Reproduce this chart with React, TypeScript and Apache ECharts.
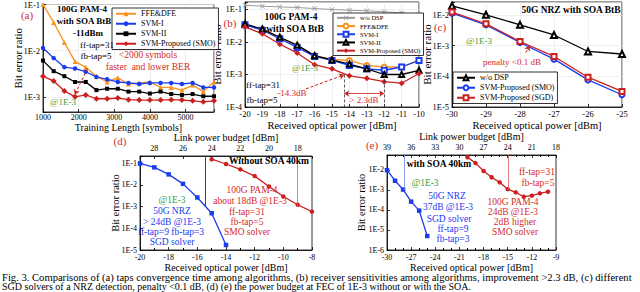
import React, { useEffect, useRef } from 'react';
import * as echarts from 'echarts';

// ---------- (a) taps convergence ----------
const aLength = [1000, 1300, 1600, 1900, 2200, 2500, 2800, 3100, 3400, 3700, 4000, 4300, 4600, 4900, 5200, 5500, 5800];
const aFfeDfe = [0.1, 0.041, 0.015, 0.0058, 0.0044, 0.0028, 0.0021, 0.0026, 0.0019, 0.002, 0.0021, 0.0016, 0.0016, 0.0014, 0.0018, 0.0013, 0.0021];
const aSvm1 = [0.0114, 0.0069, 0.0044, 0.0041, 0.0035, 0.0027, 0.0024, 0.0021, 0.002, 0.0019, 0.002, 0.002, 0.002, 0.0019, 0.002, 0.0016, 0.0016];
const aSvm2 = [0.0061, 0.0036, 0.0028, 0.0021, 0.0021, 0.0014, 0.0015, 0.0015, 0.0013, 0.0013, 0.00118, 0.0013, 0.00115, 0.0011, 0.00115, 0.00103, 0.00103];
const aSmo = [0.0028, 0.0022, 0.00134, 0.001, 0.0011, 0.00091, 0.00091, 0.00094, 0.00087, 0.00085, 0.00085, 0.00085, 0.00087, 0.00085, 0.00082, 0.00078, 0.00082];

// ---------- (b) receiver sensitivity, 100G PAM-4 ----------
const bPower = [-20, -19, -18, -17, -16, -15, -14, -13, -12, -11, -10];
const bNoDsp = [0.135, 0.126, 0.12, 0.115, 0.107, 0.1, 0.095, 0.091, 0.085, 0.079, 0.068];
const bFfeDfe = [0.034, 0.024, 0.0135, 0.0076, 0.0038, 0.0029, 0.0027, 0.0019, 0.0017, 0.0017, 0.0027];
const bSvm1 = [0.034, 0.023, 0.0126, 0.0068, 0.0036, 0.0027, 0.0019, 0.0015, 0.00135, 0.0017, 0.0027];
const bSvm2 = [0.036, 0.025, 0.014, 0.008, 0.0038, 0.0028, 0.0021, 0.0015, 0.001, 0.001, 0.00135];
const bSmo = [0.029, 0.018, 0.0085, 0.0046, 0.002, 0.0015, 0.00091, 0.00076, 0.0006, 0.00054, 0.00107];
const bMarks = [-14.3, -12];

// ---------- (c) 50G NRZ ----------
const cPower = [-30, -29, -28, -27, -26, -25];
const cNoDsp = [0.0196, 0.01, 0.0047, 0.0022, 0.00064, 0.00053];
const cSmo = [0.0113, 0.0047, 0.00125, 0.00036, 7.6e-5, 2.5e-5];
const cSgd = [0.0122, 0.0051, 0.00135, 0.00044, 9.3e-5, 3.2e-5];

// ---------- (d) without SOA 40 km ----------
const dPowerNrz = [-20, -19, -18, -17, -16, -15, -14];
const dNrz = [0.095, 0.063, 0.03, 0.011, 0.0026, 0.00049, 1.7e-5];
const dPowerPam = [-15, -14, -13, -12, -11, -10, -9, -8];
const dPam = [0.15, 0.09, 0.051, 0.025, 0.0083, 0.0029, 0.0012, 0.00058];
const dCross = [-15.45, -9.05];

// ---------- (e) with SOA 40 km ----------
const ePowerNrz = [-30, -29, -28, -27, -26, -25];
const eNrz = [0.0098, 0.0029, 0.00105, 0.00026, 9.3e-5, 5e-6];
const ePowerPam = [-20, -19, -18, -17, -16, -15, -14, -13, -12, -11, -10];
const ePam = [0.043, 0.022, 0.0089, 0.0043, 0.0024, 0.0011, 0.00076, 0.00046, 0.00052, 0.00068, 0.00082];
const eCross = [-27.9, -14.9];

const LAUNCH = 9; // link power budget = LAUNCH - received power

const RED = '#cc2020';
const RED_T = '#d42a2a';
const BLUE = '#1a3cf0';
const ORANGE = '#f7931e';
const GREEN = '#3a9d3a';
const GRAY = '#9b9b9b';
const SERIF = "'Liberation Serif', 'DejaVu Serif', serif";
const XMARK = 'path://M0,1L1,0L5,4L9,0L10,1L6,5L10,9L9,10L5,6L1,10L0,9L4,5Z';

const zip = (xs: number[], ys: number[]) => xs.map((x, i) => [x, ys[i]]);
const logFmt = (v: number) => {
  const e = Math.log10(v);
  const r = Math.round(e);
  return Math.abs(e - r) < 1e-6 ? '1E' + r : '';
};
const strip = (n: string) => n.split('|')[1];

const axisLineS = { show: true, onZero: false, lineStyle: { color: '#000', width: 0.8 } };
const tickS = { show: true, inside: true, length: 3, lineStyle: { color: '#000', width: 0.8 } };
const gridLineS = { show: true, lineStyle: { color: '#e4e4e4', width: 0.6 } };
const noLine = { show: false };
const lab = (size: number, margin: number, fmt: any) => ({ fontFamily: SERIF, fontSize: size, color: '#000', margin, formatter: fmt });
const nm = (size: number) => ({ fontFamily: SERIF, fontSize: size, color: '#000' });

function grid(left: number, top: number, width: number, height: number) {
  return { left, top, width, height, show: true, borderColor: '#000', borderWidth: 0.8, containLabel: false, outerBoundsMode: 'none' };
}

function xAx(gridIndex: number, min: number, max: number, interval: number | undefined, name: string, nameGap: number, nameSize: number, labSize: number, margin: number, fmt: any, split: boolean, extra: any = {}) {
  return {
    type: 'value', gridIndex, min, max, interval, name, nameLocation: 'middle', nameGap, nameMoveOverlap: false,
    nameTextStyle: nm(nameSize), axisLine: axisLineS, axisTick: tickS, axisLabel: lab(labSize, margin, fmt),
    splitLine: split ? gridLineS : noLine, ...extra,
  };
}
function yAx(gridIndex: number, min: number, max: number, nameGap: number, nameSize: number, labSize: number, split: boolean) {
  return {
    type: 'log', gridIndex, min, max, logBase: 10, name: 'Bit error ratio', nameLocation: 'middle', nameGap, nameMoveOverlap: false,
    nameTextStyle: nm(nameSize), axisLine: axisLineS, axisTick: tickS, axisLabel: lab(labSize, 3, logFmt),
    splitLine: split ? gridLineS : noLine,
  };
}

function line(name: string, xi: number, yi: number, xs: number[], ys: number[], color: string, symbol: string, size: number, extra: any = {}) {
  return {
    type: 'line', name, xAxisIndex: xi, yAxisIndex: yi, data: zip(xs, ys), symbol, symbolSize: size,
    itemStyle: { color }, lineStyle: { color, width: 1.3 }, z: 3, ...extra,
  };
}

const greenMark = { yAxis: 0.001, lineStyle: { color: GREEN, type: [6, 3], width: 1.5 } };
function seg(p0: number[], p1: number[], color: string, type: any, width: number, s0 = 'none', s1 = 'none') {
  return [
    { coord: p0, symbol: s0, symbolSize: 5, lineStyle: { color, type, width } },
    { coord: p1, symbol: s1, symbolSize: 5 },
  ];
}
function marks(data: any[]) {
  return { markLine: { silent: true, symbol: 'none', label: { show: false }, animation: false, data } };
}

function txt(x: number, y: number, text: string, color: string, size: number, bold = false, align = 'center') {
  return {
    type: 'text', x, y, silent: true, z: 10,
    style: {
      text, fill: color, font: `${bold ? 'bold ' : ''}${size}px ${SERIF}`,
      align, verticalAlign: 'middle', textAlign: align, textVerticalAlign: 'middle',
    },
  };
}

function legend(left: number, top: number, names: string[], size: number, lh: number, iw: number) {
  return {
    orient: 'vertical', left, top, data: names, formatter: strip, selectedMode: false,
    itemWidth: iw, itemHeight: 6, itemGap: 0.5, padding: [1, 3, 1, 3],
    backgroundColor: '#fff', borderColor: '#000', borderWidth: 0.8, z: 5,
    textStyle: { fontFamily: SERIF, fontSize: size, color: '#000', lineHeight: lh },
  };
}

function buildOption() {
  const dTopMin = LAUNCH - (-8);
  const dTopMax = LAUNCH - (-20);
  const eTopMin = LAUNCH - (-9);
  const eTopMax = LAUNCH - (-30);
  return {
    animation: false,
    grid: [
      grid(43, 4.5, 171, 107.5),
      grid(245, 2, 174, 105),
      grid(452, 2, 170, 105),
      grid(140, 156, 172, 94),
      grid(387, 155, 169, 95),
    ],
    xAxis: [
      xAx(0, 1000, 5800, 1000, 'Training Length [symbols]', 10.5, 10, 8, 1, (v: number) => (v % 1000 === 0 ? String(v) : ''), true),
      xAx(1, -20, -10, 1, 'Received optical power [dBm]', 12.5, 10.5, 8.5, 2, (v: number) => String(v), true),
      xAx(2, -30, -25, 1, 'Received optical power [dBm]', 12.5, 10.5, 8.5, 2, (v: number) => String(v), true),
      xAx(3, -20, -8, 2, 'Received optical power [dBm]', 12, 10, 8, 3, (v: number) => String(v), false, { minorTick: { show: true, splitNumber: 2, length: 2 } }),
      xAx(3, dTopMin, dTopMax, undefined, 'Link power budget [dBm]', 14, 10, 8, 4, (v: number) => (v % 2 === 0 ? String(v) : ''), false, { position: 'top', inverse: true, splitNumber: 6 }),
      xAx(4, -30, -9, 3, 'Received optical power [dBm]', 12, 10, 8, 3, (v: number) => String(v), false, { minorTick: { show: true, splitNumber: 3, length: 2 } }),
      xAx(4, eTopMin, eTopMax, 3, 'Link power budget [dBm]', 14, 10, 8, 4, (v: number) => String(v), false, { position: 'top', inverse: true, minorTick: { show: true, splitNumber: 3, length: 2 } }),
    ],
    yAxis: [
      yAx(0, 4.7e-4, 0.1, 20, 11, 8.5, true),
      yAx(1, 1e-4, 0.17, 23, 11, 8.5, true),
      yAx(2, 1e-5, 0.026, 20, 11, 8.5, true),
      yAx(3, 1e-5, 0.21, 19, 10.5, 8, false),
      yAx(4, 1e-6, 0.056, 20, 10.5, 8, false),
    ],
    legend: [
      legend(112, 8, ['a|FFE&DFE', 'a|SVM-I', 'a|SVM-II', 'a|SVM-Proposed (SMO)'], 8, 9.5, 20),
      legend(333, 13, ['b|w/o DSP', 'b|FFE&DFE', 'b|SVM-I', 'b|SVM-II', 'b|SVM-Proposed (SMO)'], 6.5, 7.7, 18),
      legend(453, 72, ['c|w/o DSP', 'c|SVM-Proposed (SMO)', 'c|SVM-Proposed (SGD)'], 8, 9.5, 18),
    ],
    series: [
      // (a)
      line('a|FFE&DFE', 0, 0, aLength, aFfeDfe, ORANGE, 'triangle', 5),
      line('a|SVM-I', 0, 0, aLength, aSvm1, BLUE, 'circle', 4.5),
      line('a|SVM-II', 0, 0, aLength, aSvm2, '#000', 'rect', 4),
      line('a|SVM-Proposed (SMO)', 0, 0, aLength, aSmo, RED, 'diamond', 6,
        marks([greenMark, seg([2250, 0.0041], [1890, 0.00112], RED, [3, 2], 1, 'none', 'arrow')])),
      // (b)
      line('b|w/o DSP', 1, 1, bPower, bNoDsp, GRAY, XMARK, 5, { lineStyle: { color: GRAY, width: 1 } }),
      line('b|FFE&DFE', 1, 1, bPower, bFfeDfe, ORANGE, 'emptyCircle', 5),
      line('b|SVM-I', 1, 1, bPower, bSvm1, BLUE, 'emptyRect', 5),
      line('b|SVM-II', 1, 1, bPower, bSvm2, '#000', 'emptyTriangle', 5),
      line('b|SVM-Proposed (SMO)', 1, 1, bPower, bSmo, RED, 'diamond', 6,
        marks([
          greenMark,
          seg([bMarks[0], 0.001], [bMarks[0], 1e-4], '#333', [3, 2], 0.8),
          seg([bMarks[1], 0.001], [bMarks[1], 1e-4], '#333', [3, 2], 0.8),
          seg([-16.5, 3.6e-4], [bMarks[0], 0.00098], RED, [3, 2], 1, 'none', 'arrow'),
          seg([bMarks[0], 2.6e-4], [bMarks[1], 2.6e-4], RED, 'solid', 0.8, 'arrow', 'arrow'),
        ])),
      // (c)
      line('c|w/o DSP', 2, 2, cPower, cNoDsp, '#000', 'emptyTriangle', 6),
      line('c|SVM-Proposed (SMO)', 2, 2, cPower, cSmo, BLUE, 'emptyCircle', 5),
      line('c|SVM-Proposed (SGD)', 2, 2, cPower, cSgd, RED, 'emptyRect', 5,
        marks([greenMark, seg([-27.83, 5.9e-4], [-27.72, 0.00098], RED, [3, 2], 1, 'none', 'arrow')])),
      // (d)
      line('d|50G NRZ', 3, 3, dPowerNrz, dNrz, BLUE, 'rect', 4.5),
      line('d|100G PAM-4', 3, 3, dPowerPam, dPam, RED, 'circle', 4.5,
        marks([
          greenMark,
          seg([dCross[0], 0.21], [dCross[0], 0.001], BLUE, 'solid', 1),
          seg([dCross[1], 0.21], [dCross[1], 0.001], '#e06060', 'solid', 0.8),
        ])),
      // (e)
      line('e|50G NRZ', 5, 4, ePowerNrz, eNrz, BLUE, 'rect', 4.5),
      line('e|100G PAM-4', 5, 4, ePowerPam, ePam, RED, 'circle', 4.5,
        marks([
          greenMark,
          seg([eCross[0], 0.056], [eCross[0], 0.001], '#7080f0', 'solid', 0.8),
          seg([eCross[1], 0.056], [eCross[1], 0.001], '#e06060', 'solid', 0.8),
        ])),
    ],
    graphic: [
      // (a)
      txt(27, 15, '(a)', RED_T, 11),
      txt(82, 9, '100G PAM-4', '#000', 9, true),
      txt(84, 21, 'with SOA BtB', '#000', 9, true),
      txt(88, 33, '-11dBm', '#000', 9, true),
      txt(97, 45, 'ff-tap=31', '#000', 9),
      txt(96, 56, 'fb-tap=5', '#000', 9),
      txt(148, 55, '<2000 symbols', RED_T, 9.5),
      txt(148, 67, 'faster  and lower BER', RED_T, 9.5),
      txt(63, 102, '@1E-3', GREEN, 9),
      // (b)
      txt(230, 23, '(b)', RED_T, 11),
      txt(291, 17, '100G PAM-4', '#000', 9.5, true),
      txt(295, 29, 'with SOA BtB', '#000', 9.5, true),
      txt(305, 68, '@1E-3', GREEN, 9),
      txt(263, 85, 'ff-tap=31', '#000', 9),
      txt(262, 100, 'fb-tap=5', '#000', 9),
      txt(292, 93, '-14.3dB', RED_T, 9),
      txt(364, 100, '> 2.3dB', RED_T, 9),
      // (c)
      txt(571, 10, '50G NRZ with SOA BtB', '#000', 9.5, true),
      txt(440, 27, '(c)', RED_T, 11),
      txt(479, 41, '@1E-3', GREEN, 9),
      txt(512, 62, 'penalty <0.1 dB', RED_T, 9),
      // (d)
      txt(120, 141, '(d)', RED_T, 11),
      txt(269, 161, 'Without SOA 40km', '#000', 9.5, true),
      txt(172, 200, '@1E-3', GREEN, 9.5),
      txt(172, 211, '50G NRZ', BLUE, 9.5),
      txt(172, 222, '> 24dB @1E-3', BLUE, 9.5),
      txt(171, 232, 'ff-tap=9 fb-tap=3', BLUE, 9.5),
      txt(172, 242, 'SGD solver', BLUE, 9.5),
      txt(252, 190, '100G PAM-4', RED_T, 9.5),
      txt(250, 201, 'about 18dB @1E-3', RED_T, 9.5),
      txt(247, 212, 'ff-tap=31', RED_T, 9.5),
      txt(247, 222, 'fb-tap=5', RED_T, 9.5),
      txt(247, 232, 'SMO solver', RED_T, 9.5),
      // (e)
      txt(372, 145, '(e)', RED_T, 11),
      txt(439, 164, 'with SOA 40km', '#000', 9.5, true),
      txt(425, 183, '@1E-3', GREEN, 9.5),
      txt(447, 196, '50G NRZ', BLUE, 9.5),
      txt(448, 207, '37dB @1E-3', BLUE, 9.5),
      txt(449, 219, 'SGD solver', BLUE, 9.5),
      txt(453, 229, 'ff-tap=9', BLUE, 9.5),
      txt(453, 239, 'fb-tap=3', BLUE, 9.5),
      txt(537, 172, 'ff-tap=31', RED_T, 9.5),
      txt(538, 183, 'fb-tap=5', RED_T, 9.5),
      txt(513, 202, '100G PAM-4', RED_T, 9.5),
      txt(513, 212, '24dB @1E-3', RED_T, 9.5),
      txt(515, 222, '2dB higher', RED_T, 9.5),
      txt(515, 232, 'SMO solver', RED_T, 9.5),
      // caption
      txt(2, 277, 'Fig. 3. Comparisons of (a) taps convergence time among algorithms, (b) receiver sensitivities among algorithms, improvement >2.3 dB, (c) different', '#000', 10.6, false, 'left'),
      txt(2, 286.5, 'SGD solvers of a NRZ detection, penalty <0.1 dB, (d) (e) the power budget at FEC of 1E-3 without or with the SOA.', '#000', 10, false, 'left'),
    ],
  };
}

export default function App() {
  const ref = useRef<HTMLDivElement>(null);
  useEffect(() => {
    document.body.style.margin = '0';
    const chart = echarts.init(ref.current!, null, { renderer: 'svg' });
    chart.setOption(buildOption() as any);
    return () => chart.dispose();
  }, []);
  return <div ref={ref} style={{ width: 640, height: 292, background: '#fff' }} />;
}
